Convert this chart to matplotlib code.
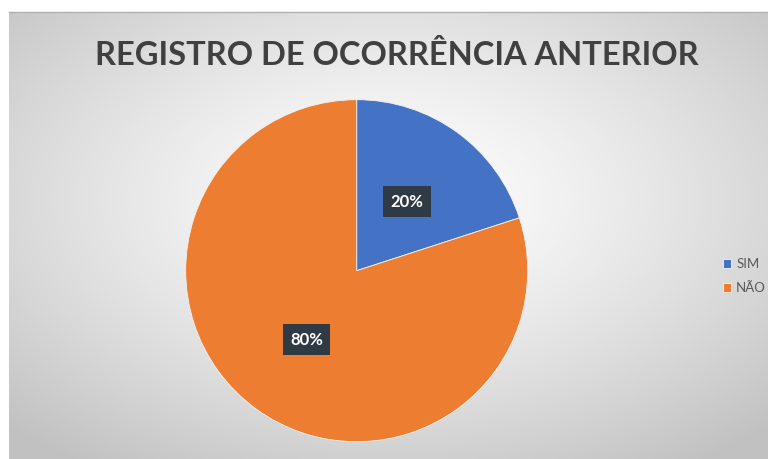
import numpy as np
import matplotlib.pyplot as plt

# dados
categorias = ["SIM", "NÃO"]
valores = [20, 80]
cores = ["#4472C4", "#ED7D31"]
titulo = "REGISTRO DE OCORRÊNCIA ANTERIOR"

W, H = 768, 459
fig = plt.figure(figsize=(W / 100, H / 100), dpi=100)
fig.patch.set_facecolor("white")

# fundo com gradiente radial (estilo Excel)
x0 = 9 / W
y_top = 12 / H
bg = fig.add_axes([x0, 0, 1 - x0, 1 - y_top])
bg.set_axis_off()
gx, gy = np.meshgrid(np.linspace(0, 1, 400), np.linspace(0, 1, 300))
cx, cy = 0.5, 0.42
r = np.sqrt(((gx - cx) / 0.62) ** 2 + ((gy - cy) / 0.62) ** 2)
r = np.clip(r / 1.15, 0, 1)
val = 1.0 - 0.24 * r ** 1.3
img = np.dstack([val, val, val])
bg.imshow(img, extent=[0, 1, 0, 1], origin="upper", aspect="auto")
bg.set_xlim(0, 1)
bg.set_ylim(0, 1)
bg.plot([0, 1], [1, 1], color="#b0b0b0", lw=1.0, transform=bg.transAxes, clip_on=False)

# titulo
fig.text(0.517, 1 - 55 / H, titulo, ha="center", va="center", fontsize=23.5,
         fontweight="bold", color="#404040", family="Lato")

# pizza
cxp, cyp, R = 356.7, 270.7, 171
ax = fig.add_axes([(cxp - R) / W, (H - cyp - R) / H, 2 * R / W, 2 * R / H])
wedges, textos, autotextos = ax.pie(
    valores, colors=cores, startangle=90, counterclock=False,
    autopct="%1.0f%%", pctdistance=0.5,
    wedgeprops=dict(linewidth=0.6, edgecolor="#f2f2f2"),
    textprops=dict(color="white", fontsize=12, fontweight="bold", family="Lato"),
)
ax.set_xlim(-1, 1)
ax.set_ylim(-1, 1)
ax.set_aspect("auto")
for t in autotextos:
    t.set_bbox(dict(boxstyle="square,pad=0.45", facecolor="#2f3a45", edgecolor="none"))

# legenda
leg = fig.legend(wedges, categorias, loc="center left",
                 bbox_to_anchor=(711 / W, 1 - 276 / H), frameon=False,
                 handlelength=0.65, handleheight=0.65, handletextpad=0.35,
                 labelspacing=0.95, prop=dict(size=9.5, family="Lato"))
for t in leg.get_texts():
    t.set_color("#595959")

fig.savefig("out.png", dpi=100)
